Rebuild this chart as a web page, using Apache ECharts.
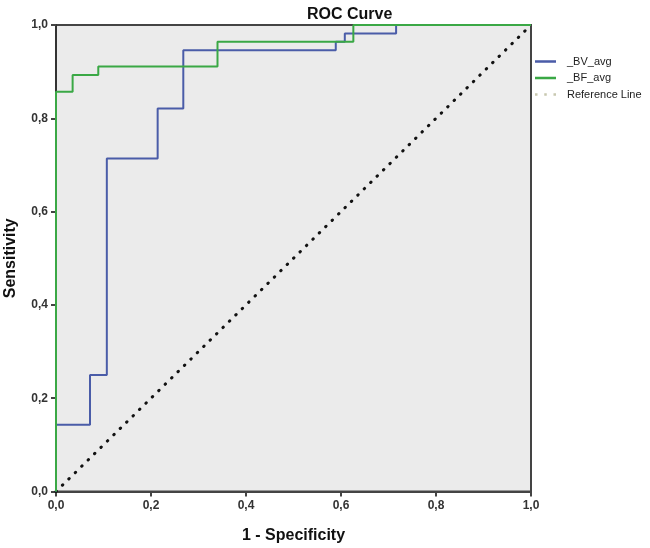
<!DOCTYPE html>
<html>
<head>
<meta charset="utf-8">
<script src="https://cdn.jsdelivr.net/npm/echarts@6/dist/echarts.min.js"></script>
<style>html,body{margin:0;padding:0;background:#fff;}#c{width:650px;height:548px;}</style>
</head>
<body>
<div id="c"></div>
<script>
// ROC points (1 - Specificity, Sensitivity), drawn as step curves
const bvPoints = [[0,0],[0,0.143],[0.0716,0.25],[0.107,0.714],[0.214,0.821],[0.268,0.946],[0.589,0.964],[0.608,0.982],[0.716,1],[1,1]];
const bfPoints = [[0,0],[0,0.857],[0.035,0.893],[0.089,0.911],[0.34,0.964],[0.626,1],[1,1]];
const refPoints = [[0,0],[1,1]];
const tickLabels = ['0,0','0,2','0,4','0,6','0,8','1,0'];
const seriesNames = ['_BV_avg','_BF_avg','Reference Line'];

const chart = echarts.init(document.getElementById('c'));
const FONT = 'Liberation Sans';
chart.setOption({
  animation: false,
  title: {text: 'ROC Curve', left: 302, top: 2, textStyle: {fontFamily: FONT, fontSize: 16, fontWeight: 'bold', color: '#111'}},
  legend: {
    orient: 'vertical', left: 535, top: 56, padding: 0, itemWidth: 21, itemHeight: 11, itemGap: 5.5,
    textStyle: {fontFamily: FONT, fontSize: 11, color: '#222', padding: [0,0,0,6]},
    data: [
      {name: seriesNames[0], icon: 'path://M0,0H1V0.12H0Z'},
      {name: seriesNames[1], icon: 'path://M0,0H1V0.12H0Z'},
      {name: seriesNames[2], icon: 'path://M0,0H0.12V0.12H0ZM0.44,0H0.56V0.12H0.44ZM0.88,0H1V0.12H0.88Z', itemStyle: {color: '#c8c8b0'}}
    ]
  },
  grid: {left: 56, right: 119, top: 25, bottom: 56.5, containLabel: false, outerBoundsMode: 'none',
         show: true, backgroundColor: '#ebebeb', borderColor: '#444', borderWidth: 2},
  xAxis: {
    type: 'value', min: 0, max: 1, interval: 0.2,
    name: '1 - Specificity', nameLocation: 'middle', nameGap: 36,
    nameTextStyle: {fontFamily: FONT, fontSize: 16, fontWeight: 'bold', color: '#111'},
    axisLine: {show: true, lineStyle: {color: '#444', width: 2}},
    axisTick: {show: true, length: 5, lineStyle: {color: '#444', width: 2}},
    axisLabel: {formatter: v => tickLabels[Math.round(v*5)], fontFamily: FONT, fontSize: 12, fontWeight: 'bold', color: '#333', margin: 8},
    splitLine: {show: false}
  },
  yAxis: {
    type: 'value', min: 0, max: 1, interval: 0.2,
    name: 'Sensitivity', nameLocation: 'middle', nameGap: 37, nameRotate: 90,
    nameTextStyle: {fontFamily: FONT, fontSize: 16, fontWeight: 'bold', color: '#111'},
    axisLine: {show: true, lineStyle: {color: '#333', width: 2}},
    axisTick: {show: true, length: 5, lineStyle: {color: '#444', width: 2}},
    axisLabel: {formatter: v => tickLabels[Math.round(v*5)], fontFamily: FONT, fontSize: 12, fontWeight: 'bold', color: '#333', margin: 8},
    splitLine: {show: false}
  },
  series: [
    {name: seriesNames[0], type: 'line', step: 'end', data: bvPoints, symbol: 'none', z: 3,
     itemStyle: {color: '#4a5ca8'}, lineStyle: {color: '#4a5ca8', width: 2}},
    {name: seriesNames[1], type: 'line', step: 'end', data: bfPoints, symbol: 'none', z: 4,
     itemStyle: {color: '#3aa845'}, lineStyle: {color: '#3aa845', width: 2}},
    {name: seriesNames[2], type: 'line', data: refPoints, symbol: 'none', z: 2,
     itemStyle: {color: '#c8c8b0'}, lineStyle: {color: '#111', width: 3, type: [0.5, 8.5], cap: 'round'}}
  ]
});
</script>
</body>
</html>
